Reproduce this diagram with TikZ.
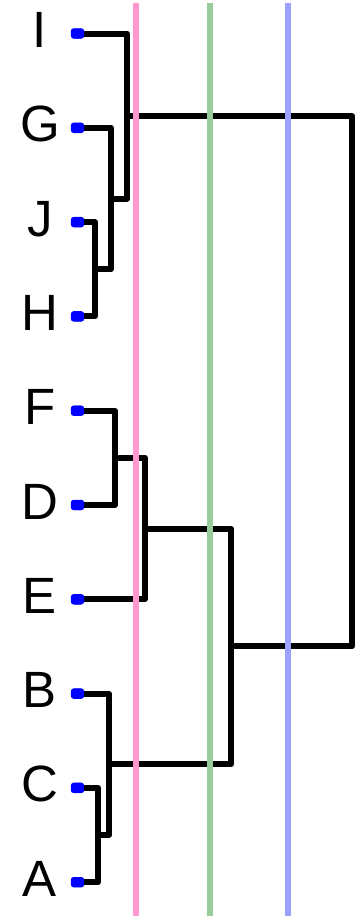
\documentclass[tikz,border=0pt]{standalone}
\usepackage{fontspec}
\setmainfont{Liberation Sans}
\usetikzlibrary{calc}
\definecolor{cutpink}{RGB}{255,153,204}
\definecolor{cutgreen}{RGB}{153,204,153}
\definecolor{cutblue}{RGB}{160,160,255}
\tikzset{
    leaf/.style = {rectangle, fill=blue, inner sep=0pt,
        minimum width=13pt, minimum height=10pt, rounded corners=3pt},
    lbl/.style = {anchor=base, inner sep=0pt,
        font=\fontsize{51}{51}\selectfont},
    link/.style = {draw, black, line width=6pt, line cap=round, line join=round},
    cut/.style = {line width=6pt}
}

\begin{document}
\begin{tikzpicture}[x=1pt, y=-1pt]
            \useasboundingbox (0,0) rectangle (358,916);
            % leaves
            \node [leaf] (lI) at (77.5,33.5) {};
            \node [leaf] (lG) at (77.5,127.8) {};
            \node [leaf] (lJ) at (77.5,222.1) {};
            \node [leaf] (lH) at (77.5,316.4) {};
            \node [leaf] (lF) at (77.5,410.7) {};
            \node [leaf] (lD) at (77.5,505) {};
            \node [leaf] (lE) at (77.5,599.3) {};
            \node [leaf] (lB) at (77.5,693.6) {};
            \node [leaf] (lC) at (77.5,787.9) {};
            \node [leaf] (lA) at (77.5,882.2) {};
            % labels
            \node [lbl] (tI) at (40,47.5) {I};
            \node [lbl] (tG) at (40,141.8) {G};
            \node [lbl] (tJ) at (40,236.1) {J};
            \node [lbl] (tH) at (40,330.4) {H};
            \node [lbl] (tF) at (40,424.7) {F};
            \node [lbl] (tD) at (40,519) {D};
            \node [lbl] (tE) at (40,613.3) {E};
            \node [lbl] (tB) at (40,707.6) {B};
            \node [lbl] (tC) at (40,801.9) {C};
            \node [lbl] (tA) at (40,896.2) {A};
            % merge points
            \coordinate (mJH) at (95,269.25);
            \coordinate (mGJH) at (111,198.5);
            \coordinate (mIGJH) at (127,116);
            \coordinate (mFD) at (115,457.85);
            \coordinate (mFDE) at (145,528.6);
            \coordinate (mCA) at (98,835);
            \coordinate (mBCA) at (109,764.3);
            \coordinate (mMid) at (231,646.45);
            \coordinate (mRoot) at (352,381.2);
            % dendrogram
            \draw [link] (lJ.center) -| (mJH) |- (lH.center);
            \draw [link] (lG.center) -| (mGJH) |- (mJH);
            \draw [link] (lI.center) -| (mIGJH) |- (mGJH);
            \draw [link] (lF.center) -| (mFD) |- (lD.center);
            \draw [link] (mFD) -| (mFDE) |- (lE.center);
            \draw [link] (lC.center) -| (mCA) |- (lA.center);
            \draw [link] (lB.center) -| (mBCA) |- (mCA);
            \draw [link] (mFDE) -| (mMid) |- (mBCA);
            \draw [link] (mIGJH) -| (mRoot) |- (mMid);
            % dots on top of the lines
            \foreach \l in {lI,lG,lJ,lH,lF,lD,lE,lB,lC,lA}
                \fill [blue, rounded corners=3pt] (\l.south west) rectangle (\l.north east);
            % cut levels
            \draw [cut, cutpink] (135.5,3) -- (135.5,916);
            \draw [cut, cutgreen] (209.5,3) -- (209.5,916);
            \draw [cut, cutblue] (287.5,3) -- (287.5,916);
        \end{tikzpicture}
\end{document}
